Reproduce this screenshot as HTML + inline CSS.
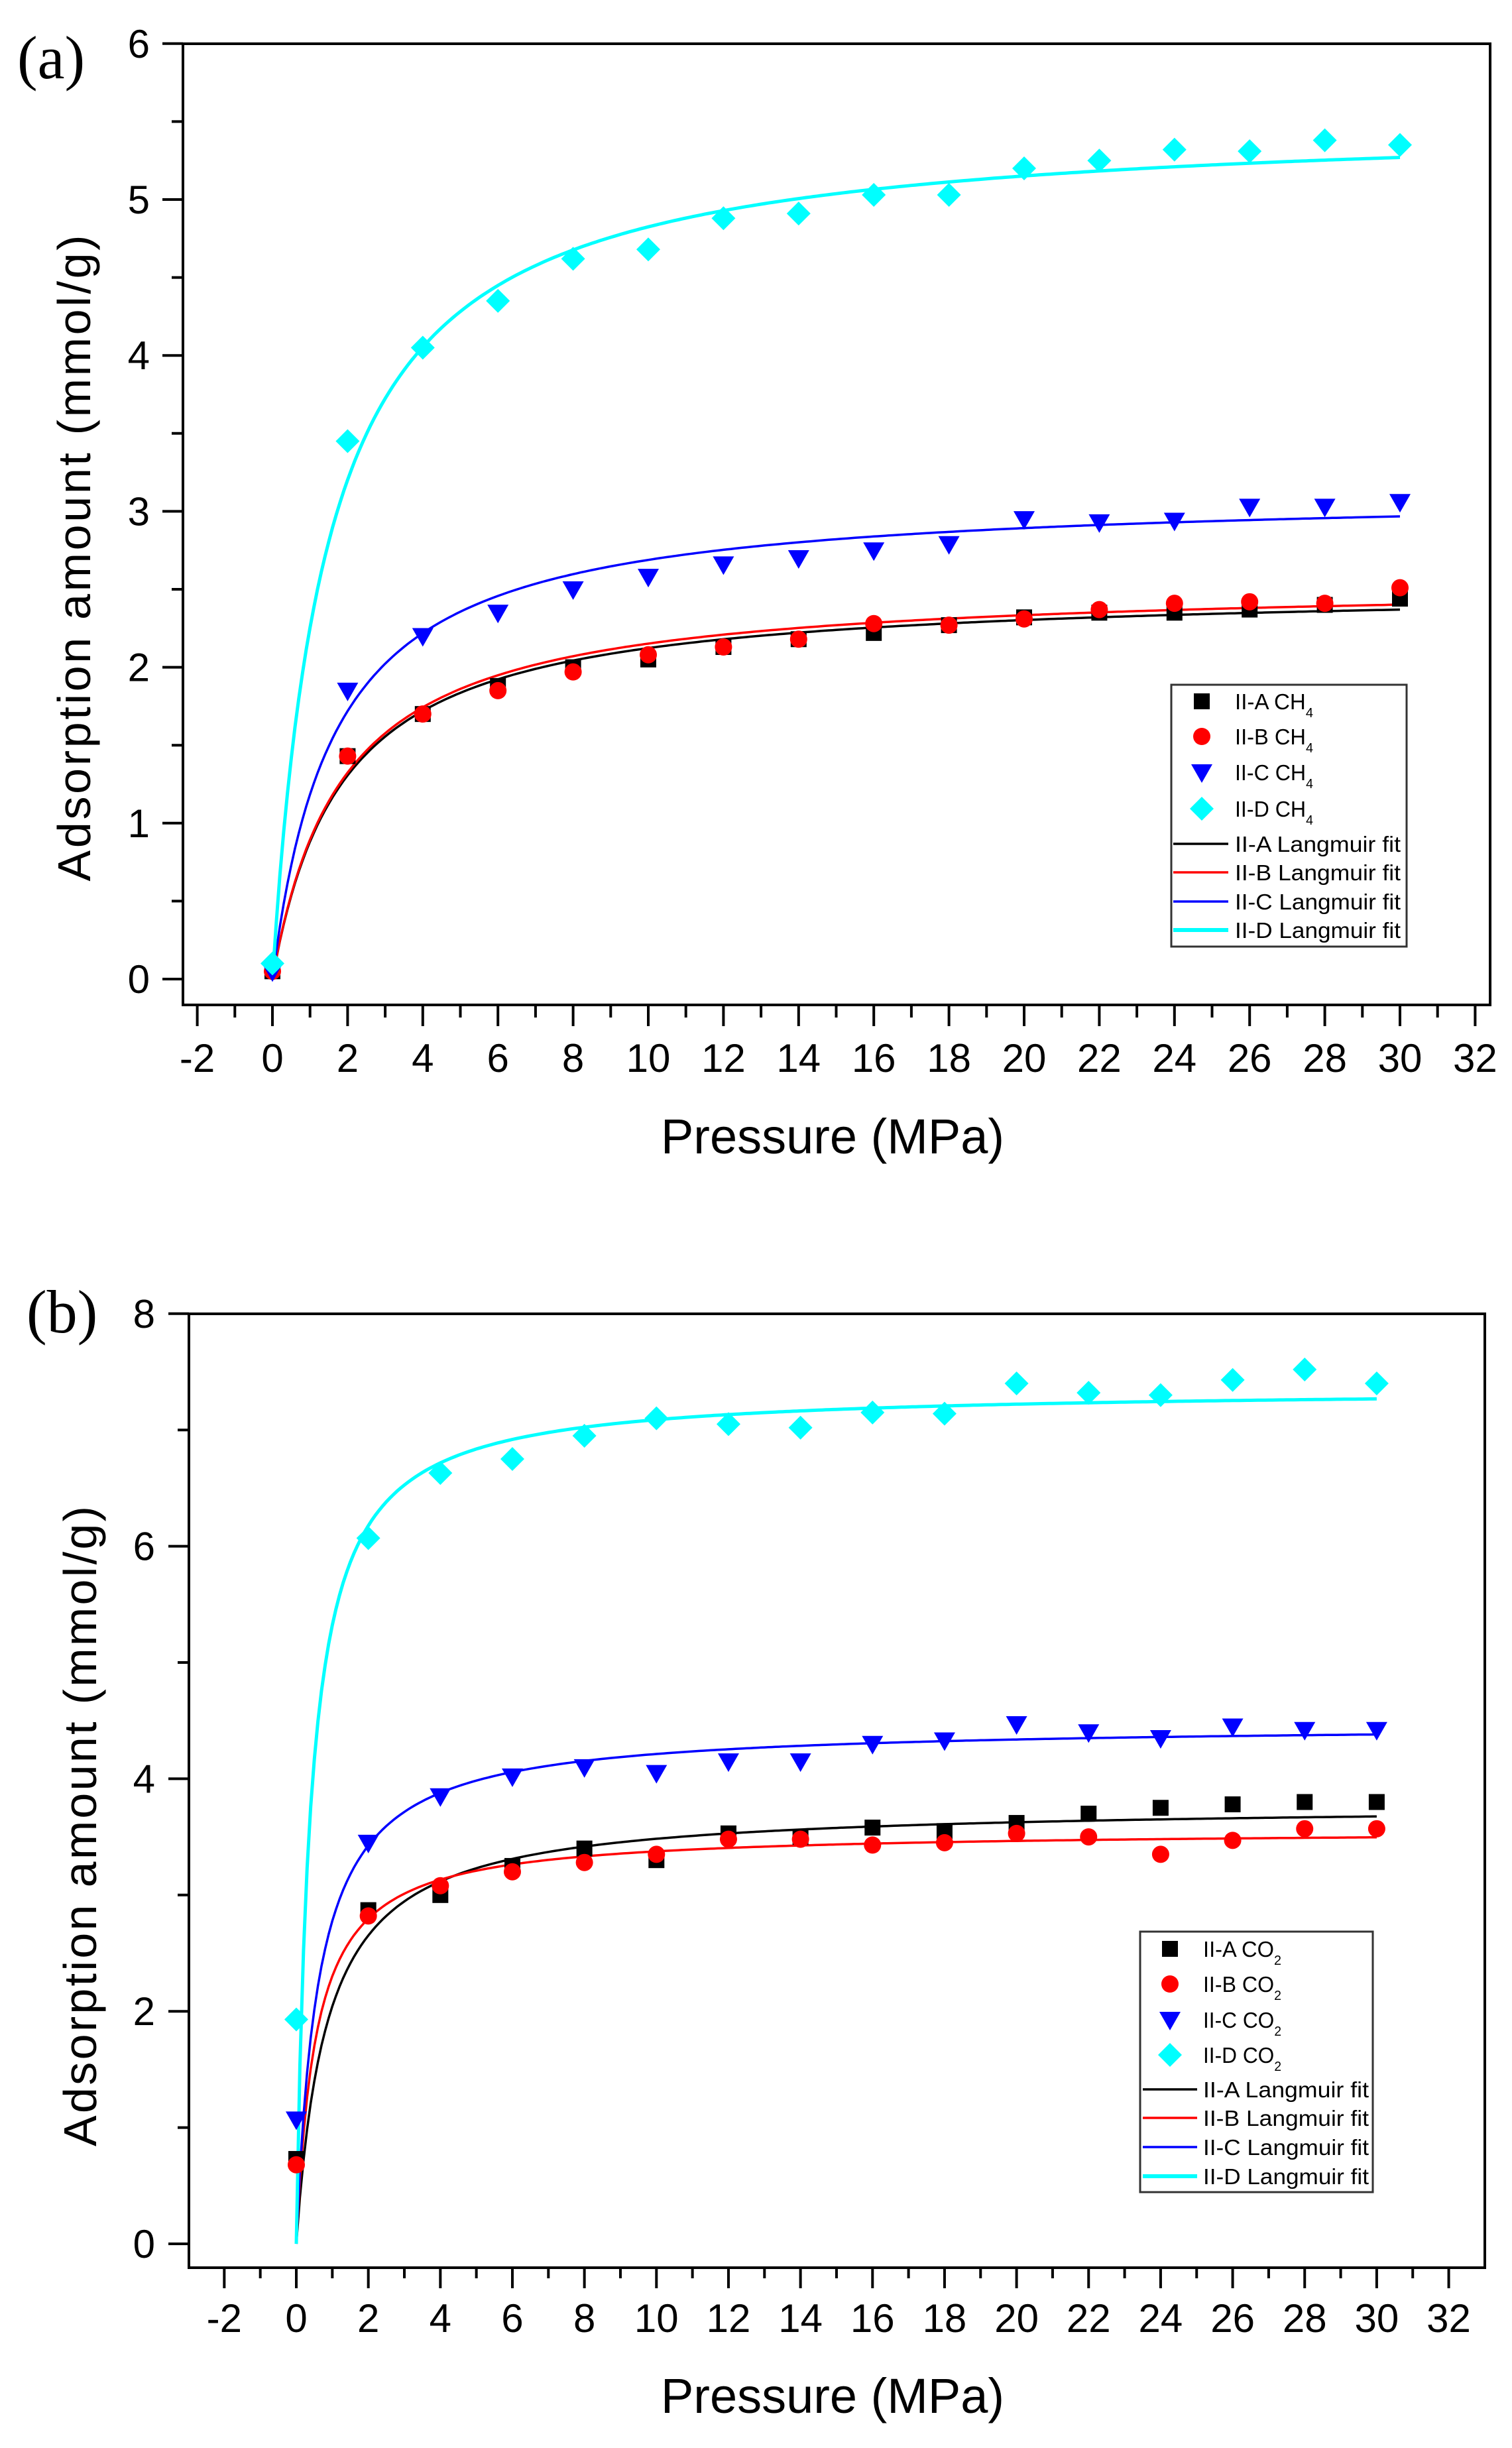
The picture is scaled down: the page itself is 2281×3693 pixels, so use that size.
<!DOCTYPE html>
<html><head><meta charset="utf-8"><style>
html,body{margin:0;padding:0;background:#fff}
svg{display:block}
text{font-family:"Liberation Sans",sans-serif;fill:#000}
</style></head><body>
<svg id="s" xmlns="http://www.w3.org/2000/svg" width="2281" height="3693" viewBox="0 0 2281 3693">
<rect width="2281" height="3693" fill="#fff"/>
<text x="26" y="118" style="font-family:'Liberation Serif',serif" font-size="92">(a)</text>
<text x="40" y="2010" style="font-family:'Liberation Serif',serif" font-size="92">(b)</text>
<text transform="translate(136,842) rotate(-90)" text-anchor="middle" font-size="70" textLength="975">Adsorption amount (mmol/g)</text>
<text transform="translate(145,2755) rotate(-90)" text-anchor="middle" font-size="70" textLength="966">Adsorption amount (mmol/g)</text>
<text x="1256" y="1740" text-anchor="middle" font-size="74">Pressure (MPa)</text>
<text x="1256" y="3640" text-anchor="middle" font-size="74">Pressure (MPa)</text>
<g id="g"></g>
</svg>
<script>
var g=document.getElementById('g'),NS='http://www.w3.org/2000/svg';
function el(t,a,txt){var e=document.createElementNS(NS,t);for(var k in a)e.setAttribute(k,a[k]);if(txt!==undefined)e.textContent=txt;g.appendChild(e);return e;}
function panel(P){
 var X=function(v){return P.x0+v*P.xs},Y=function(v){return P.y0-v*P.ys};
 el('rect',{x:P.L,y:P.T,width:P.R-P.L,height:P.B-P.T,fill:'none',stroke:'#000','stroke-width':4});
 for(var v=-2;v<=32;v++){var x=X(v);var maj=(v%2==0);
  el('line',{x1:x,y1:P.B,x2:x,y2:P.B+(maj?P.tM:P.tm),stroke:'#000','stroke-width':4});
  if(maj)el('text',{x:x,y:P.xlb,'text-anchor':'middle','font-size':60},String(v));}
 for(var v=0;v<=P.ymax;v+=P.ystep/2){var y=Y(v);var maj=Math.abs(v/P.ystep-Math.round(v/P.ystep))<1e-6;
  el('line',{x1:P.L,y1:y,x2:P.L-(maj?31:17),y2:y,stroke:'#000','stroke-width':4});
  if(maj)el('text',{x:P.ylx,y:y+21,'text-anchor':'end','font-size':60},String(Math.round(v)));}
 var cols=['#000','#f00','#00f','#0ff'];
 P.fits.forEach(function(f,i){var d='';for(var p=0;p<=30.0001;p+=0.1){var q=f[0]*f[1]*p/(1+f[1]*p)+(f[2]||0);d+=(p==0?'M':'L')+X(p).toFixed(1)+','+Y(q).toFixed(1);}
  el('path',{d:d,fill:'none',stroke:cols[i],'stroke-width':i==3?5:3.5});});
 P.data.forEach(function(arr,i){arr.forEach(function(q,j){mk(i,X(j*2),Y(q));});});
 var Lg=P.leg;el('rect',{x:Lg.x1,y:Lg.y1,width:Lg.x2-Lg.x1,height:Lg.y2-Lg.y1,fill:'#fff',stroke:'#333','stroke-width':3});
 var names=['II-A','II-B','II-C','II-D'];
 for(var i=0;i<4;i++){mk(i,Lg.mx,Lg.rows[i]);
  var t=el('text',{x:Lg.tx,y:Lg.rows[i]+12,'font-size':33,textLength:118,lengthAdjust:'spacingAndGlyphs'});t.textContent=names[i]+' '+P.gas;
  var s=document.createElementNS(NS,'tspan');s.setAttribute('font-size',20);s.setAttribute('dy',12);s.textContent=P.sub;t.appendChild(s);}
 for(var i=0;i<4;i++){var y=Lg.rows[4+i];el('line',{x1:Lg.lx1,y1:y,x2:Lg.lx2,y2:y,stroke:cols[i],'stroke-width':i==3?6:3.5});
  el('text',{x:Lg.tx,y:y+12,'font-size':33,textLength:250,lengthAdjust:'spacingAndGlyphs'},names[i]+' Langmuir fit');}
}
function mk(i,x,y){
 if(i==0)el('rect',{x:x-12,y:y-12,width:24,height:24,fill:'#000'});
 else if(i==1)el('circle',{cx:x,cy:y,r:13,fill:'#f00'});
 else if(i==2)el('path',{d:'M'+(x-16)+','+(y-12)+'L'+(x+16)+','+(y-12)+'L'+x+','+(y+16)+'Z',fill:'#00f'});
 else el('path',{d:'M'+x+','+(y-18)+'L'+(x+18)+','+y+'L'+x+','+(y+18)+'L'+(x-18)+','+y+'Z',fill:'#0ff'});
}
panel({L:276,R:2248,T:66,B:1516,x0:411,xs:56.7,y0:1477,ys:235.2,ymax:6,ystep:1,tM:32,tm:19,xlb:1617,ylx:226,gas:'CH',sub:'4',
 fits:[[2.516,0.54],[2.55,0.54],[3.13,0.609],[5.525,0.689]],
 data:[[0.05,1.43,1.7,1.88,2.0,2.05,2.13,2.18,2.22,2.27,2.32,2.35,2.35,2.37,2.4,2.44],
 [0.05,1.43,1.7,1.85,1.97,2.08,2.13,2.18,2.28,2.27,2.31,2.37,2.41,2.42,2.41,2.51],
 [0.05,1.85,2.2,2.35,2.5,2.58,2.66,2.7,2.75,2.79,2.95,2.93,2.94,3.03,3.03,3.06],
 [0.1,3.45,4.05,4.35,4.62,4.68,4.88,4.91,5.03,5.03,5.2,5.25,5.32,5.31,5.38,5.35]],
 leg:{x1:1767,x2:2122,y1:1033,y2:1428,rows:[1058,1111,1165,1220,1273,1316,1360,1403],mx:1813,tx:1863,lx1:1770,lx2:1853}});
panel({L:285,R:2240,T:1982,B:3421,x0:447,xs:54.33,y0:3385,ys:175.4,ymax:8,ystep:2,tM:31,tm:16,xlb:3518,ylx:234,gas:'CO',sub:'2',
 fits:[[3.78,1.176],[3.56,1.83],[4.47,1.64],[7.36,2.61]],
 data:[[0.73,2.87,3.0,3.25,3.4,3.3,3.53,3.5,3.58,3.55,3.62,3.7,3.75,3.78,3.8,3.8],
 [0.68,2.82,3.08,3.2,3.28,3.35,3.48,3.48,3.43,3.45,3.53,3.5,3.35,3.47,3.57,3.57],
 [1.07,3.45,3.85,4.02,4.1,4.05,4.15,4.15,4.3,4.33,4.47,4.4,4.35,4.45,4.42,4.42],
 [1.93,6.07,6.63,6.75,6.95,7.1,7.05,7.02,7.15,7.14,7.4,7.32,7.3,7.43,7.52,7.4]],
 leg:{x1:1720,x2:2071,y1:2914,y2:3307,rows:[2940,2993,3047,3100,3152,3195,3239,3283],mx:1765,tx:1815,lx1:1724,lx2:1806}});
</script>
</body></html>
